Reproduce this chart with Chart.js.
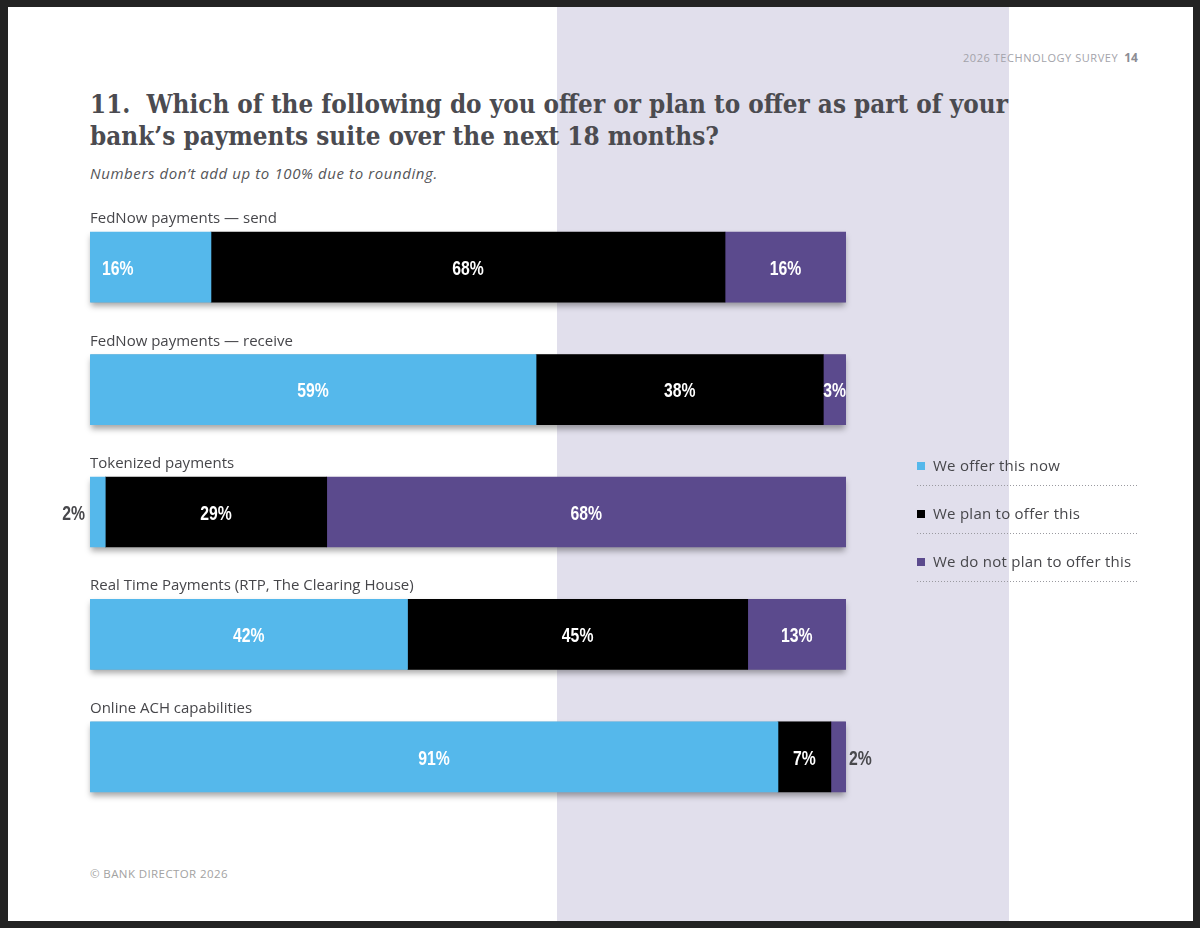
<!DOCTYPE html>
<html>
<head>
<meta charset="utf-8">
<script src="https://cdn.jsdelivr.net/npm/chart.js@4.4.1/dist/chart.umd.min.js"></script>
<style>
  html, body { margin:0; padding:0; }
  body { width:1200px; height:928px; background:#232323; position:relative; overflow:hidden; }
  #page { position:absolute; left:8px; top:7px; width:1185px; height:914px; background:#ffffff; }
  #band { position:absolute; left:557px; top:7px; width:452px; height:914px; background:#e1dfec; }
  .t { position:absolute; white-space:nowrap; }
  #header { left:963px; top:49px; font:11px "Open Sans", sans-serif; letter-spacing:0.55px; color:#a3a3aa; }
  #header b { color:#8c8c93; margin-left:6px; letter-spacing:0; font-size:12px; }
  #title { left:90px; top:88px; font:bold 25.8px "DejaVu Serif Condensed", "DejaVu Serif", serif; line-height:32px; color:#4b4b50; }
  #subtitle { left:90px; top:163px; font:italic 15px "Open Sans", sans-serif; letter-spacing:0.6px; line-height:20px; color:#555558; }
  #footer { left:90px; top:866px; font:11.5px "Open Sans", sans-serif; letter-spacing:0.4px; color:#a2a2a2; }
  #chart { position:absolute; left:0; top:0; }
</style>
</head>
<body>
<div id="page"></div>
<div id="band"></div>
<div class="t" id="header">2026 TECHNOLOGY SURVEY<b>14</b></div>
<div class="t" id="title">11.&nbsp; Which of the following do you offer or plan to offer as part of your<br>bank’s payments suite over the next 18 months?</div>
<div class="t" id="subtitle">Numbers don’t add up to 100% due to rounding.</div>
<div class="t" id="footer">© BANK DIRECTOR 2026</div>
<canvas id="chart" width="1200" height="928"></canvas>
<script>
const categories = [
  'FedNow payments — send',
  'FedNow payments — receive',
  'Tokenized payments',
  'Real Time Payments (RTP, The Clearing House)',
  'Online ACH capabilities'
];
const offerNow    = [16, 59, 2, 42, 91];
const planToOffer = [68, 38, 29, 45, 7];
const notPlanning = [16, 3, 68, 13, 2];
const seriesNames = ['We offer this now', 'We plan to offer this', 'We do not plan to offer this'];
const seriesColors = ['#55b8eb', '#000000', '#5b4a8d'];

const rawSeries = [offerNow, planToOffer, notPlanning];
const totals = categories.map((_, i) => rawSeries.reduce((s, arr) => s + arr[i], 0));

const datasets = rawSeries.map((arr, k) => ({
  label: seriesNames[k],
  raw: arr,
  data: arr.map((v, i) => v / totals[i] * 100),
  backgroundColor: seriesColors[k],
  borderWidth: 0,
  barThickness: 70
}));

const shadowPlugin = {
  id: 'barShadow',
  beforeDatasetsDraw(chart) {
    const ctx = chart.ctx, xs = chart.scales.x;
    const meta = chart.getDatasetMeta(0);
    ctx.save();
    meta.data.forEach(el => {
      const h = el.height;
      const l = xs.getPixelForValue(0), r = xs.getPixelForValue(100);
      ctx.shadowColor = 'rgba(0,0,0,0.35)';
      ctx.shadowBlur = 6;
      ctx.shadowOffsetY = 4;
      ctx.fillStyle = '#888';
      ctx.fillRect(l + 1, el.y - h / 2, r - l - 2, h);
    });
    ctx.restore();
  }
};

function condensedText(ctx, txt, x, y, align) {
  ctx.save();
  ctx.translate(x, y);
  ctx.scale(0.75, 1);
  ctx.textAlign = align;
  ctx.fillText(txt, 0, 0);
  ctx.restore();
}

const labelPlugin = {
  id: 'labels',
  afterDatasetsDraw(chart) {
    const ctx = chart.ctx, xs = chart.scales.x;
    ctx.save();
    const meta0 = chart.getDatasetMeta(0);
    ctx.font = '15px "Open Sans", sans-serif';
    ctx.fillStyle = '#46464a';
    ctx.textAlign = 'left';
    ctx.textBaseline = 'alphabetic';
    meta0.data.forEach((el, i) => {
      ctx.fillText(chart.data.labels[i], xs.getPixelForValue(0), el.y - el.height / 2 - 9);
    });
    ctx.font = 'bold 21px "Liberation Sans", Arial, sans-serif';
    ctx.textBaseline = 'middle';
    chart.data.datasets.forEach((ds, k) => {
      const meta = chart.getDatasetMeta(k);
      meta.data.forEach((el, i) => {
        const txt = ds.raw[i] + '%';
        const left = Math.min(el.base, el.x), right = Math.max(el.base, el.x);
        const w = right - left;
        const y = el.y + 2;
        if (w < 20) {
          ctx.fillStyle = '#48484c';
          if (k === 0) condensedText(ctx, txt, left - 5, y, 'right');
          else condensedText(ctx, txt, right + 3, y, 'left');
        } else {
          ctx.fillStyle = '#ffffff';
          if (k === 0 && i === 0) condensedText(ctx, txt, left + 12, y, 'left');
          else condensedText(ctx, txt, (left + right) / 2, y, 'center');
        }
      });
    });
    ctx.restore();
  },
  afterDraw(chart) {
    const ctx = chart.ctx;
    ctx.save();
    const x0 = 917, y0 = 466, step = 48;
    chart.data.datasets.forEach((ds, k) => {
      const y = y0 + k * step;
      ctx.fillStyle = ds.backgroundColor;
      ctx.fillRect(x0, y - 4, 8, 8);
      ctx.fillStyle = '#46464a';
      ctx.font = '15px "Open Sans", sans-serif';
      if ('letterSpacing' in ctx) ctx.letterSpacing = '0.25px';
      ctx.textAlign = 'left';
      ctx.textBaseline = 'middle';
      ctx.fillText(ds.label, x0 + 16, y + 1);
      if ('letterSpacing' in ctx) ctx.letterSpacing = '0px';
      ctx.strokeStyle = '#9a9aa0';
      ctx.lineWidth = 1;
      ctx.setLineDash([1, 2]);
      ctx.beginPath();
      ctx.moveTo(x0, y + 19.5);
      ctx.lineTo(1138, y + 19.5);
      ctx.stroke();
      ctx.setLineDash([]);
    });
    ctx.restore();
  }
};

new Chart(document.getElementById('chart'), {
  type: 'bar',
  data: { labels: categories, datasets },
  options: {
    indexAxis: 'y',
    responsive: false,
    animation: false,
    devicePixelRatio: 1,
    layout: { padding: { left: 90, right: 354, top: 206, bottom: 110 } },
    scales: {
      x: { stacked: true, min: 0, max: 100, display: false },
      y: { stacked: true, display: false }
    },
    plugins: { legend: { display: false }, tooltip: { enabled: false } }
  },
  plugins: [shadowPlugin, labelPlugin]
});
</script>
</body>
</html>
